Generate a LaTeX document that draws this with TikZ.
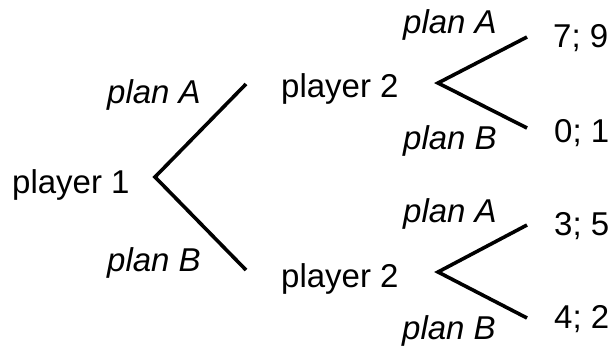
\documentclass[tikz,border=0pt]{standalone}
\usepackage{fontspec}
\setmainfont{Liberation Sans}
\begin{document}
\begin{tikzpicture}[x=1pt,y=-1pt,
  lbl/.style={anchor=base west,inner sep=0pt,font=\fontsize{33}{38}\selectfont},
  choice/.style={lbl,font=\fontsize{33}{38}\selectfont\itshape},
  branch/.style={line width=3.6pt,line join=miter}]
\useasboundingbox (0,0) rectangle (615,346);
% decision nodes
\node[lbl] (p1) at (12,193) {player 1};
\node[lbl] (p2a) at (281,97) {player 2};
\node[lbl] (p2b) at (281,287) {player 2};
% payoffs
\node[lbl] (o1) at (553,47) {7; 9};
\node[lbl] (o2) at (554,142) {0; 1};
\node[lbl] (o3) at (554,235) {3; 5};
\node[lbl] (o4) at (554,328) {4; 2};
% move labels
\node[choice] (m1a) at (107,103) {plan A};
\node[choice] (m1b) at (107,271) {plan B};
\node[choice] (m2a) at (403,33) {plan A};
\node[choice] (m2b) at (403,149) {plan B};
\node[choice] (m3a) at (403,222) {plan A};
\node[choice] (m3b) at (402,339) {plan B};
% fork points
\coordinate (v1) at (155,177);
\coordinate (e1a) at (246,84);
\coordinate (e1b) at (246,270);
\coordinate (v2) at (438,83);
\coordinate (e2a) at (527,37);
\coordinate (e2b) at (527,128);
\coordinate (v3) at (438,272);
\coordinate (e3a) at (527,225);
\coordinate (e3b) at (527,318);
% branches
\draw[branch] (e1a) -- (v1) -- (e1b);
\draw[branch] (e2a) -- (v2) -- (e2b);
\draw[branch] (e3a) -- (v3) -- (e3b);
\end{tikzpicture}
\end{document}
